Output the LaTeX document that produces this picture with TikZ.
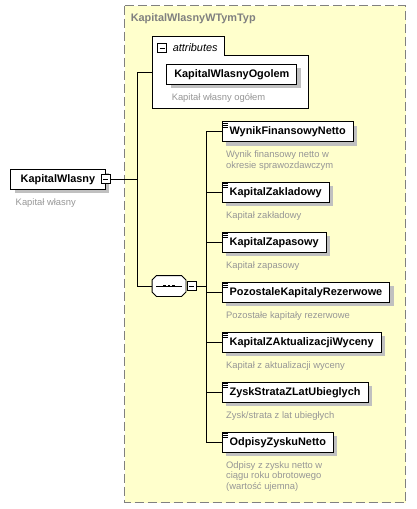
\documentclass[tikz,border=0pt]{standalone}
\usepackage{fontspec}
\setmainfont{Liberation Sans}
\usetikzlibrary{shadows}
\definecolor{kwYellow}{RGB}{255,255,204}
\definecolor{kwFrame}{RGB}{128,128,128}
\definecolor{kwNote}{RGB}{150,150,150}
\definecolor{kwShadow}{RGB}{192,192,192}
% three short lines in the corner of an element box
\newcommand\kwIcon[1]{%
  \foreach \d in {1.8,3.8,5.8}
    \draw[line width=0.7pt] ([xshift=1.5pt,yshift=-\d pt]#1.north west) -- ++(4.5,0);}
% octagon outline round a compositor node
\newcommand\kwOcta[1]{%
  ([xshift=4.5pt]#1.north west) -- ([xshift=-4.5pt]#1.north east) -- ([yshift=-4.5pt]#1.north east)
  -- ([yshift=4.5pt]#1.south east) -- ([xshift=-4.5pt]#1.south east) -- ([xshift=4.5pt]#1.south west)
  -- ([yshift=4.5pt]#1.south west) -- ([yshift=-4.5pt]#1.north west) -- cycle}

\begin{document}
\begin{tikzpicture}[x=1pt,y=-1pt,line width=0.9pt]
\tikzset{
    kwElem/.style={draw,fill=white,minimum height=20pt,inner xsep=7.5pt,inner ysep=0pt,anchor=west,
        font=\fontsize{10.9}{12}\selectfont\bfseries,
        drop shadow={shadow xshift=4pt,shadow yshift=-4pt,fill=kwShadow,opacity=1}},
    kwDesc/.style={anchor=north west,inner sep=0pt,align=left,text=kwNote,
        font=\fontsize{9.4}{10.4}\selectfont},
    kwMinus/.style={draw,fill=white,minimum size=9pt,inner sep=0pt,line width=0.8pt,
        path picture={\draw[line width=0.8pt] ([xshift=2pt]path picture bounding box.west)
          -- ([xshift=-2pt]path picture bounding box.east);}},
    kwSeq/.style={rectangle,minimum width=33pt,minimum height=20pt,inner sep=0pt}
}
\useasboundingbox (0,0) rectangle (416,509);

% complex type frame
\draw[kwFrame,fill=kwYellow,dash pattern=on 9pt off 4pt,line width=1pt] (124.5,5.5) rectangle (405.5,502.5);
\node[anchor=base west,inner sep=0pt,text=kwFrame,font=\fontsize{10.9}{12}\selectfont\bfseries]
  (typeName) at (130.3,21.5) {KapitalWlasnyWTymTyp};

% root element
\node[kwElem,minimum width=94.4pt] (kw) at (10.3,179.3) {KapitalWlasny};
\node[kwMinus] (kwMinus) at (kw.east) {};
\node[kwDesc] (kwDesc) at ([xshift=5pt,yshift=-8.5pt]kw.south west) {Kapitał własny};

% attributes group
\draw[fill=white] (152.3,36.3) -- (224.3,36.3) -- (224.3,55) -- (308.3,55) -- (308.3,108.3) -- (152.3,108.3) -- cycle;
\node[kwMinus] (attrMinus) at (162,48) {};
\node[anchor=base west,inner sep=0pt,font=\fontsize{10.9}{12}\selectfont\itshape]
  (attrTitle) at (172.3,51.5) {attributes};
\node[kwElem] (ogolem) at (166.3,74.3) {KapitalWlasnyOgolem};
\node[kwDesc] (ogolemDesc) at ([xshift=5pt,yshift=-8.5pt]ogolem.south west) {Kapitał własny ogółem};

% sequence
\node[kwSeq] (seq) at (169,286) {};
\fill[kwShadow,shift={(4,4)}] \kwOcta{seq};
\draw[fill=white] \kwOcta{seq};
\draw ([xshift=4pt]seq.west) -- ([xshift=-4pt]seq.east);
\foreach \dx in {-4.3,0,4.3}
  \fill ([xshift=\dx pt]seq.center) +(-1.3,-1.3) rectangle +(1.3,1.3);
\node[kwMinus,anchor=west] (seqMinus) at ([xshift=1pt]seq.east) {};

% child elements
\node[kwElem] (e1) at (221.7,131.7) {WynikFinansowyNetto};
\kwIcon{e1}
\node[kwDesc] (e1d) at ([xshift=4pt,yshift=-8.5pt]e1.south west) {Wynik finansowy netto w\\okresie sprawozdawczym};
\node[kwElem] (e2) at (221.7,192.3) {KapitalZakladowy};
\kwIcon{e2}
\node[kwDesc] (e2d) at ([xshift=4pt,yshift=-8.5pt]e2.south west) {Kapitał zakładowy};
\node[kwElem] (e3) at (221.7,242.3) {KapitalZapasowy};
\kwIcon{e3}
\node[kwDesc] (e3d) at ([xshift=4pt,yshift=-8.5pt]e3.south west) {Kapitał zapasowy};
\node[kwElem] (e4) at (221.7,292.3) {PozostaleKapitalyRezerwowe};
\kwIcon{e4}
\node[kwDesc] (e4d) at ([xshift=4pt,yshift=-8.5pt]e4.south west) {Pozostałe kapitały rezerwowe};
\node[kwElem] (e5) at (221.7,342.3) {KapitalZAktualizacjiWyceny};
\kwIcon{e5}
\node[kwDesc] (e5d) at ([xshift=4pt,yshift=-8.5pt]e5.south west) {Kapitał z aktualizacji wyceny};
\node[kwElem] (e6) at (221.7,392.3) {ZyskStrataZLatUbieglych};
\kwIcon{e6}
\node[kwDesc] (e6d) at ([xshift=4pt,yshift=-8.5pt]e6.south west) {Zysk/strata z lat ubiegłych};
\node[kwElem] (e7) at (221.7,442.3) {OdpisyZyskuNetto};
\kwIcon{e7}
\node[kwDesc] (e7d) at ([xshift=4pt,yshift=-8.5pt]e7.south west) {Odpisy z zysku netto w\\ciągu roku obrotowego\\(wartość ujemna)};

% connectors
\coordinate (trunkTop) at (137.7,72);
\coordinate (trunkBot) at (137.7,286);
\coordinate (attrIn) at (152.3,72);
\coordinate (bus) at (206.3,286);
\draw (kwMinus.east) -- (kwMinus.east -| trunkTop);
\draw (attrIn) -- (trunkTop) -- (trunkBot) -- (seq.west);
\draw (seqMinus.east) -- (bus);
\draw (bus |- e1.west) -- (bus |- e7.west);
\draw (bus |- e1.west) -- (e1.west);
\draw (bus |- e2.west) -- (e2.west);
\draw (bus |- e3.west) -- (e3.west);
\draw (bus |- e4.west) -- (e4.west);
\draw (bus |- e5.west) -- (e5.west);
\draw (bus |- e6.west) -- (e6.west);
\draw (bus |- e7.west) -- (e7.west);
\end{tikzpicture}
\end{document}
